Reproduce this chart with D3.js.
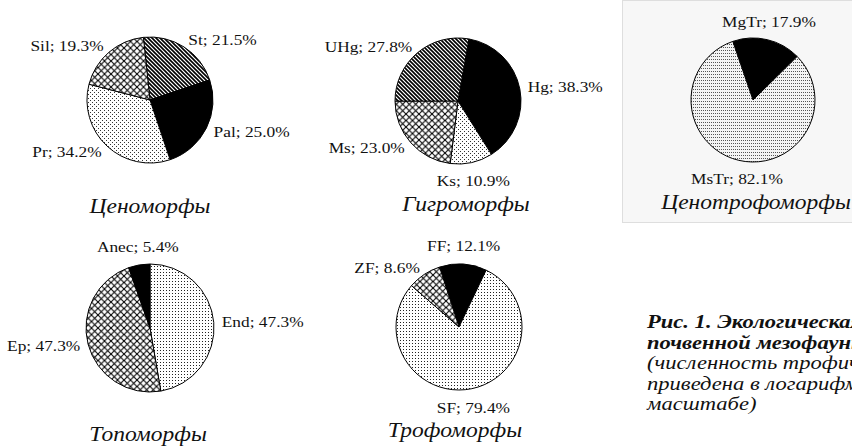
<!DOCTYPE html>
<html>

<head>
    <meta charset="utf-8">
    <style>
        body {
            margin: 0;
            background: white;
            overflow: hidden;
        }

        svg {
            display: block;
            font-family: 'Liberation Serif', 'Times New Roman', serif;
        }

        .slice-label {
            font-size: 15.5px;
            fill: #111;
        }

        .pie-title {
            font-size: 21px;
            font-style: italic;
            fill: #111;
        }

        .caption {
            font-size: 18.5px;
            font-style: italic;
            fill: #111;
        }
    </style>
</head>

<body>
    <svg width="852" height="446"></svg>

    <script src="https://d3js.org/d3.v7.min.js"></script>
    <script>
        // data
        const cenoCats = ["St", "Pal", "Pr", "Sil"]
        const cenoVals = [21.5, 25.0, 34.2, 19.3]

        const hygroCats = ["Hg", "Ks", "Ms", "UHg"]
        const hygroVals = [38.3, 10.9, 23.0, 27.8]

        const trophCats = ["MgTr", "MsTr"]
        const trophVals = [17.9, 82.1]

        const topoCats = ["End", "Ep", "Anec"]
        const topoVals = [47.3, 47.3, 5.4]

        const feedCats = ["FF", "SF", "ZF"]
        const feedVals = [12.1, 79.4, 8.6]

        const titles = ["Ценоморфы", "Гигроморфы", "Ценотрофоморфы", "Топоморфы", "Трофоморфы"]

        const captionLines = [
            { t: "Рис. 1. Экологическая структура", bold: true },
            { t: "почвенной мезофауны", bold: true },
            { t: "(численность трофических групп", bold: false },
            { t: "приведена в логарифмическом", bold: false },
            { t: "масштабе)", bold: false }
        ]

        // which fill each group gets
        const fillOf = {
            St: "url(#hatch)", UHg: "url(#hatch)",
            Pal: "#000", Hg: "#000", MgTr: "#000", Anec: "#000", FF: "#000",
            Sil: "url(#cross)", Ms: "url(#cross)", Ep: "url(#cross)", ZF: "url(#cross)",
            Pr: "url(#dots)", Ks: "url(#dots)",
            End: "url(#dotsMid)", SF: "url(#dotsMid)",
            MsTr: "url(#dotsGray)"
        }

        const deg = Math.PI / 180
        // the scanned figure is a little wider than plain Times
        const stretch = 1.12

        let charts = [
            { cats: cenoCats, vals: cenoVals, cx: 150, cy: 100, r: 63, start: -6, tx: 150, ty: 213 },
            { cats: hygroCats, vals: hygroVals, cx: 458, cy: 101, r: 63, start: 10, tx: 466, ty: 211 },
            { cats: trophCats, vals: trophVals, cx: 753, cy: 100, r: 62, start: -19, tx: 756, ty: 209 },
            { cats: topoCats, vals: topoVals, cx: 150, cy: 328, r: 64, start: 0, tx: 148, ty: 441 },
            { cats: feedCats, vals: feedVals, cx: 459, cy: 327, r: 63, start: -18, tx: 455, ty: 437 }
        ]

        let svg = d3.select("svg")

        function place(x, y) {
            return "translate(" + x + "," + y + ") scale(" + stretch + ",1)"
        }

        // patterns
        let defs = svg.append("defs")

        let hatch = defs.append("pattern")
            .attr("id", "hatch")
            .attr("patternUnits", "userSpaceOnUse")
            .attr("width", 4).attr("height", 4)
        hatch.append("rect").attr("width", 4).attr("height", 4).attr("fill", "white")
        hatch.append("path")
            .attr("d", "M-1,-1 L5,5 M-1,3 L1,5 M3,-1 L5,1")
            .attr("stroke", "black")
            .attr("stroke-width", 1.6)

        let cross = defs.append("pattern")
            .attr("id", "cross")
            .attr("patternUnits", "userSpaceOnUse")
            .attr("width", 6.5).attr("height", 6.5)
        cross.append("rect").attr("width", 6.5).attr("height", 6.5).attr("fill", "white")
        cross.append("path")
            .attr("d", "M0,0 L6.5,6.5 M6.5,0 L0,6.5")
            .attr("stroke", "black")
            .attr("stroke-width", 1.1)

        let dots = defs.append("pattern")
            .attr("id", "dots")
            .attr("patternUnits", "userSpaceOnUse")
            .attr("width", 4).attr("height", 4)
        dots.append("rect").attr("width", 4).attr("height", 4).attr("fill", "white")
        dots.append("rect").attr("x", 0).attr("y", 0).attr("width", 1).attr("height", 1).attr("fill", "#333")
        dots.append("rect").attr("x", 2).attr("y", 2).attr("width", 1).attr("height", 1).attr("fill", "#333")

        let dotsMid = defs.append("pattern")
            .attr("id", "dotsMid")
            .attr("patternUnits", "userSpaceOnUse")
            .attr("width", 3).attr("height", 3)
        dotsMid.append("rect").attr("width", 3).attr("height", 3).attr("fill", "white")
        dotsMid.append("rect").attr("x", 1).attr("y", 1).attr("width", 1).attr("height", 1).attr("fill", "#222")

        let dotsGray = defs.append("pattern")
            .attr("id", "dotsGray")
            .attr("patternUnits", "userSpaceOnUse")
            .attr("width", 2).attr("height", 3)
        dotsGray.append("rect").attr("width", 2).attr("height", 3).attr("fill", "#f4f4f4")
        dotsGray.append("rect").attr("x", 0).attr("y", 1).attr("width", 1).attr("height", 1).attr("fill", "#555")

        // light panel behind the third chart
        svg.append("rect")
            .attr("x", 622.5).attr("y", 0.5)
            .attr("width", 240).attr("height", 222)
            .attr("fill", "#f7f7f7")
            .attr("stroke", "#dedede")

        let fmt = d3.format(".1f")

        charts.forEach((c, i) => {
            let rows = c.cats.map((k, j) => ({ name: k, value: c.vals[j] }))

            let pie = d3.pie()
                .sort(null)
                .value(d => d.value)
                .startAngle(c.start * deg)
                .endAngle(c.start * deg + 2 * Math.PI)

            let arc = d3.arc().innerRadius(0).outerRadius(c.r)
            let labelArc = d3.arc().innerRadius(c.r + 8).outerRadius(c.r + 8)

            let g = svg.append("g")
                .attr("transform", "translate(" + c.cx + "," + c.cy + ")")

            let arcs = pie(rows)

            g.selectAll(".slice")
                .data(arcs)
                .join("path")
                .attr("class", "slice")
                .attr("d", arc)
                .attr("fill", d => fillOf[d.data.name])
                .attr("stroke", "black")
                .attr("stroke-width", 1)

            // label placement similar to spreadsheet "outside end"
            g.selectAll(".slice-label")
                .data(arcs)
                .join("text")
                .attr("class", "slice-label")
                .each(function (d) {
                    let mid = (d.startAngle + d.endAngle) / 2
                    let p = labelArc.centroid(d)
                    let s = Math.sin(mid)
                    let up = Math.cos(mid) > 0
                    let anchor = "middle"
                    let dy = up ? -5 : 16
                    if (Math.abs(s) >= 0.3) {
                        anchor = s > 0 ? "start" : "end"
                        dy = 5
                    }
                    d3.select(this)
                        .attr("transform", place(p[0], p[1] + dy))
                        .attr("text-anchor", anchor)
                        .text(d.data.name + "; " + fmt(d.data.value) + "%")
                })

            svg.append("text")
                .attr("class", "pie-title")
                .attr("transform", place(c.tx, c.ty))
                .attr("text-anchor", "middle")
                .text(titles[i])
        })

        svg.selectAll(".caption")
            .data(captionLines)
            .join("text")
            .attr("class", "caption")
            .attr("transform", (d, i) => "translate(647," + (328 + i * 20.5) + ") scale(1.22,1)")
            .style("font-weight", d => d.bold ? "bold" : "normal")
            .text(d => d.t)
    </script>
</body>

</html>
